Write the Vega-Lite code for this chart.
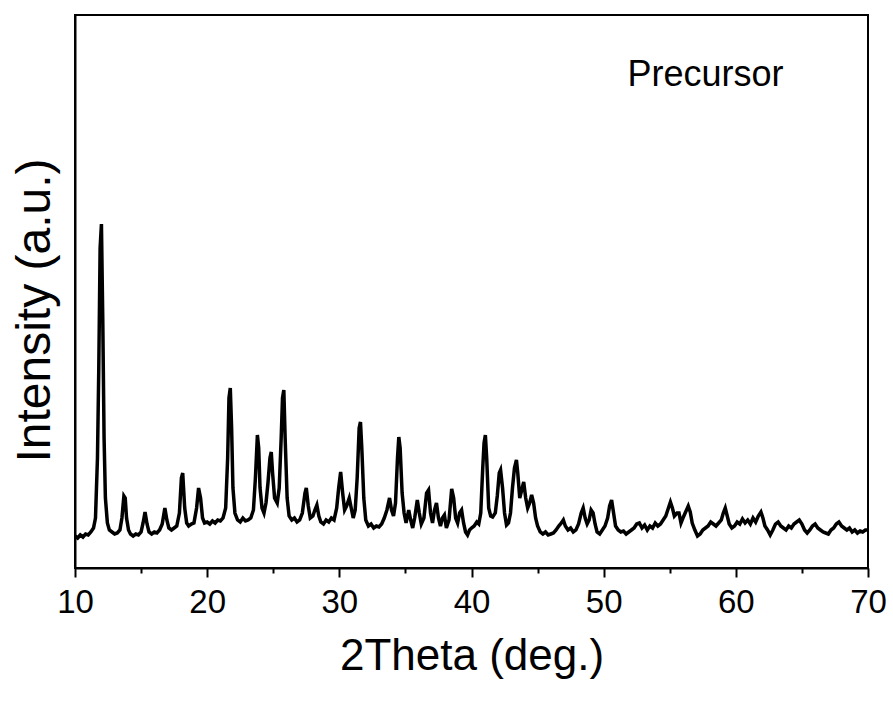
{
"$schema": "https://vega.github.io/schema/vega-lite/v6.json",
"width": 793, "height": 553,
"autosize": {"type": "none"},
"padding": {"left": 75, "top": 15, "right": 25, "bottom": 134},
"background": "white",
"config": {"view": {"stroke": "black", "strokeWidth": 2}, "font": "Liberation Sans"},
"datasets": {
"xrd": [
{"t":10.0,"i":32},{"t":10.2,"i":30},{"t":10.4,"i":33},{"t":10.6,"i":31},{"t":10.8,"i":34},{"t":11.0,"i":33},{"t":11.2,"i":36},{"t":11.4,"i":40},{"t":11.55,"i":50},{"t":11.7,"i":110},{"t":11.8,"i":200},{"t":11.9,"i":320},{"t":12.0,"i":344},{"t":12.1,"i":250},{"t":12.2,"i":130},{"t":12.3,"i":70},{"t":12.45,"i":45},{"t":12.6,"i":38},{"t":12.8,"i":36},{"t":13.0,"i":34},{"t":13.2,"i":35},{"t":13.4,"i":38},{"t":13.55,"i":50},{"t":13.7,"i":72},{"t":13.8,"i":70},{"t":13.9,"i":50},{"t":14.05,"i":38},{"t":14.2,"i":34},{"t":14.4,"i":32},{"t":14.6,"i":34},{"t":14.8,"i":33},{"t":15.0,"i":36},{"t":15.15,"i":45},{"t":15.3,"i":56},{"t":15.45,"i":44},{"t":15.6,"i":36},{"t":15.8,"i":34},{"t":16.0,"i":36},{"t":16.2,"i":35},{"t":16.4,"i":38},{"t":16.6,"i":44},{"t":16.8,"i":60},{"t":16.95,"i":48},{"t":17.1,"i":40},{"t":17.3,"i":38},{"t":17.5,"i":40},{"t":17.7,"i":42},{"t":17.9,"i":55},{"t":18.05,"i":90},{"t":18.15,"i":95},{"t":18.3,"i":60},{"t":18.45,"i":45},{"t":18.6,"i":42},{"t":18.8,"i":44},{"t":19.0,"i":45},{"t":19.2,"i":60},{"t":19.35,"i":80},{"t":19.5,"i":70},{"t":19.65,"i":50},{"t":19.8,"i":45},{"t":20.0,"i":46},{"t":20.2,"i":44},{"t":20.4,"i":47},{"t":20.6,"i":45},{"t":20.8,"i":48},{"t":21.0,"i":47},{"t":21.2,"i":50},{"t":21.4,"i":60},{"t":21.55,"i":110},{"t":21.65,"i":170},{"t":21.75,"i":180},{"t":21.85,"i":140},{"t":21.95,"i":80},{"t":22.1,"i":55},{"t":22.3,"i":48},{"t":22.5,"i":46},{"t":22.7,"i":50},{"t":22.9,"i":47},{"t":23.1,"i":48},{"t":23.3,"i":50},{"t":23.5,"i":58},{"t":23.65,"i":90},{"t":23.8,"i":133},{"t":23.9,"i":120},{"t":24.0,"i":80},{"t":24.15,"i":60},{"t":24.3,"i":55},{"t":24.45,"i":65},{"t":24.6,"i":85},{"t":24.75,"i":110},{"t":24.85,"i":116},{"t":24.95,"i":95},{"t":25.1,"i":70},{"t":25.3,"i":65},{"t":25.45,"i":80},{"t":25.6,"i":130},{"t":25.7,"i":170},{"t":25.8,"i":178},{"t":25.9,"i":130},{"t":26.05,"i":70},{"t":26.2,"i":52},{"t":26.4,"i":48},{"t":26.6,"i":50},{"t":26.8,"i":46},{"t":27.0,"i":48},{"t":27.2,"i":55},{"t":27.4,"i":75},{"t":27.5,"i":80},{"t":27.65,"i":62},{"t":27.8,"i":50},{"t":28.0,"i":52},{"t":28.15,"i":58},{"t":28.3,"i":63},{"t":28.45,"i":52},{"t":28.6,"i":46},{"t":28.8,"i":44},{"t":29.0,"i":48},{"t":29.2,"i":46},{"t":29.4,"i":50},{"t":29.6,"i":48},{"t":29.8,"i":60},{"t":29.95,"i":80},{"t":30.1,"i":96},{"t":30.25,"i":75},{"t":30.4,"i":58},{"t":30.55,"i":62},{"t":30.75,"i":70},{"t":30.9,"i":60},{"t":31.05,"i":50},{"t":31.2,"i":58},{"t":31.35,"i":90},{"t":31.5,"i":140},{"t":31.6,"i":146},{"t":31.7,"i":120},{"t":31.85,"i":70},{"t":32.0,"i":48},{"t":32.2,"i":42},{"t":32.4,"i":44},{"t":32.6,"i":40},{"t":32.8,"i":42},{"t":33.0,"i":41},{"t":33.2,"i":44},{"t":33.4,"i":50},{"t":33.6,"i":58},{"t":33.8,"i":70},{"t":33.95,"i":58},{"t":34.1,"i":52},{"t":34.25,"i":65},{"t":34.4,"i":110},{"t":34.5,"i":131},{"t":34.6,"i":120},{"t":34.75,"i":75},{"t":34.9,"i":55},{"t":35.05,"i":45},{"t":35.25,"i":58},{"t":35.4,"i":48},{"t":35.55,"i":40},{"t":35.7,"i":50},{"t":35.9,"i":68},{"t":36.05,"i":55},{"t":36.2,"i":44},{"t":36.4,"i":50},{"t":36.6,"i":75},{"t":36.75,"i":78},{"t":36.9,"i":55},{"t":37.05,"i":45},{"t":37.2,"i":58},{"t":37.35,"i":65},{"t":37.5,"i":50},{"t":37.65,"i":42},{"t":37.8,"i":50},{"t":37.95,"i":53},{"t":38.1,"i":40},{"t":38.3,"i":48},{"t":38.5,"i":79},{"t":38.65,"i":70},{"t":38.8,"i":50},{"t":38.95,"i":45},{"t":39.1,"i":55},{"t":39.25,"i":58},{"t":39.4,"i":45},{"t":39.55,"i":36},{"t":39.7,"i":33},{"t":39.85,"i":38},{"t":40.0,"i":40},{"t":40.2,"i":42},{"t":40.4,"i":46},{"t":40.55,"i":44},{"t":40.7,"i":55},{"t":40.85,"i":100},{"t":40.95,"i":125},{"t":41.05,"i":133},{"t":41.15,"i":110},{"t":41.3,"i":60},{"t":41.45,"i":52},{"t":41.6,"i":51},{"t":41.8,"i":55},{"t":41.95,"i":72},{"t":42.1,"i":95},{"t":42.2,"i":98},{"t":42.35,"i":80},{"t":42.5,"i":55},{"t":42.65,"i":43},{"t":42.8,"i":45},{"t":42.95,"i":55},{"t":43.1,"i":80},{"t":43.25,"i":100},{"t":43.4,"i":108},{"t":43.5,"i":95},{"t":43.65,"i":70},{"t":43.8,"i":78},{"t":43.95,"i":86},{"t":44.1,"i":70},{"t":44.25,"i":60},{"t":44.4,"i":65},{"t":44.55,"i":73},{"t":44.7,"i":65},{"t":44.85,"i":50},{"t":45.0,"i":42},{"t":45.2,"i":36},{"t":45.4,"i":34},{"t":45.6,"i":36},{"t":45.8,"i":33},{"t":46.0,"i":34},{"t":46.2,"i":35},{"t":46.4,"i":38},{"t":46.6,"i":42},{"t":46.8,"i":45},{"t":46.95,"i":48},{"t":47.1,"i":42},{"t":47.3,"i":38},{"t":47.5,"i":40},{"t":47.7,"i":36},{"t":47.9,"i":38},{"t":48.1,"i":44},{"t":48.3,"i":55},{"t":48.45,"i":60},{"t":48.6,"i":50},{"t":48.75,"i":44},{"t":48.9,"i":48},{"t":49.05,"i":58},{"t":49.2,"i":55},{"t":49.35,"i":44},{"t":49.5,"i":36},{"t":49.7,"i":34},{"t":49.9,"i":38},{"t":50.1,"i":42},{"t":50.3,"i":50},{"t":50.45,"i":62},{"t":50.6,"i":68},{"t":50.75,"i":55},{"t":50.9,"i":42},{"t":51.1,"i":38},{"t":51.3,"i":36},{"t":51.5,"i":37},{"t":51.7,"i":34},{"t":51.9,"i":36},{"t":52.1,"i":38},{"t":52.3,"i":40},{"t":52.5,"i":44},{"t":52.7,"i":45},{"t":52.9,"i":40},{"t":53.1,"i":43},{"t":53.3,"i":38},{"t":53.5,"i":42},{"t":53.7,"i":40},{"t":53.9,"i":45},{"t":54.1,"i":42},{"t":54.3,"i":44},{"t":54.5,"i":48},{"t":54.7,"i":52},{"t":54.9,"i":60},{"t":55.05,"i":66},{"t":55.2,"i":60},{"t":55.35,"i":52},{"t":55.55,"i":55},{"t":55.7,"i":55},{"t":55.85,"i":45},{"t":56.0,"i":50},{"t":56.2,"i":56},{"t":56.4,"i":62},{"t":56.55,"i":56},{"t":56.7,"i":45},{"t":56.9,"i":38},{"t":57.1,"i":32},{"t":57.3,"i":34},{"t":57.5,"i":38},{"t":57.7,"i":40},{"t":57.9,"i":42},{"t":58.1,"i":46},{"t":58.3,"i":44},{"t":58.5,"i":42},{"t":58.7,"i":45},{"t":58.9,"i":48},{"t":59.05,"i":55},{"t":59.2,"i":60},{"t":59.35,"i":52},{"t":59.5,"i":44},{"t":59.7,"i":40},{"t":59.9,"i":42},{"t":60.1,"i":46},{"t":60.3,"i":44},{"t":60.5,"i":49},{"t":60.7,"i":45},{"t":60.9,"i":48},{"t":61.1,"i":44},{"t":61.3,"i":50},{"t":61.5,"i":46},{"t":61.7,"i":52},{"t":61.9,"i":56},{"t":62.05,"i":50},{"t":62.2,"i":42},{"t":62.4,"i":38},{"t":62.6,"i":33},{"t":62.8,"i":38},{"t":63.0,"i":44},{"t":63.2,"i":46},{"t":63.4,"i":42},{"t":63.6,"i":40},{"t":63.8,"i":38},{"t":64.0,"i":42},{"t":64.2,"i":40},{"t":64.4,"i":44},{"t":64.6,"i":46},{"t":64.8,"i":48},{"t":65.0,"i":44},{"t":65.2,"i":38},{"t":65.4,"i":35},{"t":65.6,"i":38},{"t":65.8,"i":42},{"t":66.0,"i":44},{"t":66.2,"i":40},{"t":66.4,"i":38},{"t":66.6,"i":36},{"t":66.8,"i":35},{"t":67.0,"i":34},{"t":67.2,"i":38},{"t":67.4,"i":40},{"t":67.6,"i":44},{"t":67.8,"i":46},{"t":68.0,"i":42},{"t":68.2,"i":40},{"t":68.4,"i":38},{"t":68.6,"i":40},{"t":68.8,"i":36},{"t":69.0,"i":38},{"t":69.2,"i":35},{"t":69.4,"i":37},{"t":69.6,"i":36},{"t":69.8,"i":38},{"t":70.0,"i":38}
],
"label": [{"t":51.8,"i":493,"label":"Precursor"}],
"minor": [{"t":15},{"t":25},{"t":35},{"t":45},{"t":55},{"t":65}]
},
"layer": [
{
"data": {"name": "xrd"},
"mark": {"type": "line", "color": "black", "strokeWidth": 3.5, "clip": true},
"encoding": {
"x": {"field": "t", "type": "quantitative", "scale": {"domain": [10, 70], "nice": false, "zero": false},
"axis": {"orient": "bottom", "values": [10,20,30,40,50,60,70], "title": "2Theta (deg.)", "titleFontSize": 44, "titleFont": "Liberation Sans", "titleFontWeight": "normal", "titleColor": "black", "titlePadding": 15, "labelFontSize": 33, "labelFont": "Liberation Sans", "labelColor": "black", "labelPadding": 9, "tickSize": 9, "tickWidth": 2, "tickColor": "black", "domainColor": "black", "domainWidth": 2, "grid": false, "labelFlush": false}},
"y": {"field": "i", "type": "quantitative", "scale": {"domain": [0, 553], "nice": false},
"axis": {"title": "Intensity (a.u.)", "titleFontSize": 48, "titleFont": "Liberation Sans", "titleFontWeight": "normal", "titleColor": "black", "titlePadding": 14, "titleX": -16, "titleY": 295, "titleAngle": -90, "titleAlign": "center", "titleBaseline": "bottom", "labels": false, "ticks": false, "domainColor": "black", "domainWidth": 2, "grid": false}}
}
},
{
"data": {"name": "minor"},
"mark": {"type": "point", "opacity": 0},
"encoding": {
"x": {"field": "t", "type": "quantitative", "scale": {"domain": [10, 70], "nice": false, "zero": false},
"axis": {"orient": "bottom", "values": [15,25,35,45,55,65], "title": null, "labels": false, "tickSize": 5, "tickWidth": 2, "tickColor": "black", "domain": false, "grid": false}}
}
},
{
"data": {"name": "label"},
"mark": {"type": "text", "align": "left", "baseline": "middle", "fontSize": 36, "font": "Liberation Sans", "color": "black"},
"encoding": {
"x": {"field": "t", "type": "quantitative", "axis": null},
"y": {"field": "i", "type": "quantitative"},
"text": {"field": "label"}
}
}
],
"resolve": {"axis": {"x": "independent"}}
}
